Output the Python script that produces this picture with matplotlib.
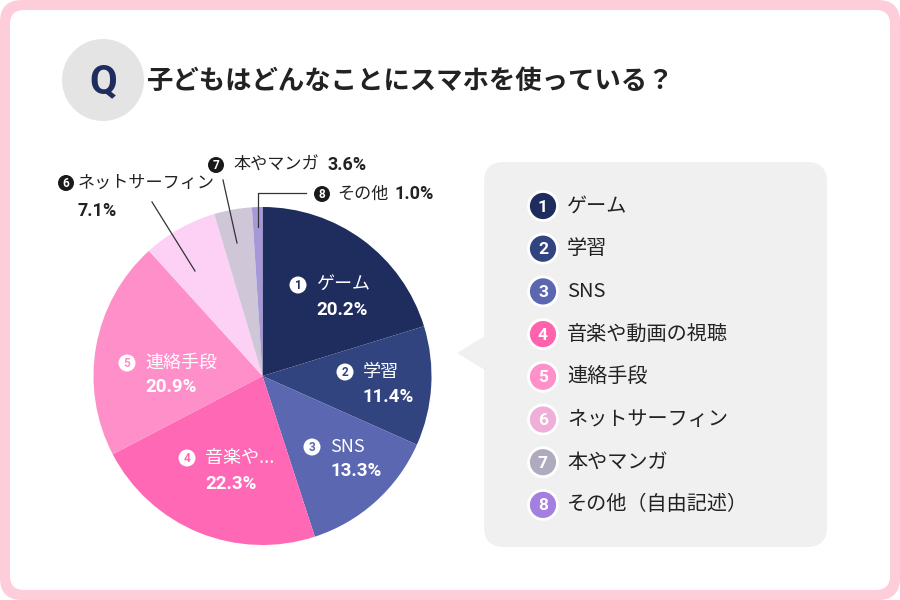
import matplotlib.pyplot as plt
from matplotlib.patches import Circle, FancyBboxPatch, Polygon

plt.rcParams['font.family'] = ['Noto Sans CJK JP', 'DejaVu Sans']

# data
labels = ['ゲーム', '学習', 'SNS', '音楽や動画の視聴', '連絡手段',
          'ネットサーフィン', '本やマンガ', 'その他（自由記述）']
short_labels = ['ゲーム', '学習', 'SNS', '音楽や...', '連絡手段',
                'ネットサーフィン', '本やマンガ', 'その他']
shares = [20.2, 11.4, 13.3, 22.3, 20.9, 7.1, 3.6, 1.0]
slice_colors = ['#1e2c5e', '#324480', '#5b67b1', '#ff68b4', '#ff8fc8',
                '#fdd0f6', '#cfc6d8', '#a898d8']
legend_colors = ['#1e2c5e', '#324480', '#5b67b1', '#ff63ad', '#ff90c9',
                 '#f0afd8', '#b0aabf', '#a57fe0']
title = '子どもはどんなことにスマホを使っている？'

fig = plt.figure(figsize=(9, 6), dpi=100)

# background panel
bg = fig.add_axes([0, 0, 1, 1], zorder=0)
bg.set_xlim(0, 900)
bg.set_ylim(600, 0)
bg.axis('off')
bg.add_patch(FancyBboxPatch((0, 0), 900, 600, boxstyle='round,pad=0,rounding_size=22',
                            fc='#fdcdda', ec='none'))
bg.add_patch(FancyBboxPatch((10, 10), 880, 580, boxstyle='round,pad=0,rounding_size=14',
                            fc='white', ec='none'))

# Q badge and title
bg.add_patch(Circle((103, 80), 41, fc='#e4e4e4', ec='none'))
bg.text(103, 82, 'Q', ha='center', va='center', fontsize=29, fontweight='bold',
        color='#1e2c5e', family='Roboto')
bg.text(147, 81, title, ha='left', va='center', fontsize=19, fontweight='bold',
        color='#222222')

# legend box with pointer
bg.add_patch(FancyBboxPatch((484, 162), 343, 385, boxstyle='round,pad=0,rounding_size=20',
                            fc='#f0f0f0', ec='none'))
bg.add_patch(Polygon([(485, 336), (457, 353), (485, 370)], closed=True,
                     fc='#f0f0f0', ec='none'))

for i, (lab, col) in enumerate(zip(labels, legend_colors)):
    y = 206 + i * 42.7
    bg.add_patch(Circle((543, y), 14.5, fc=col, ec='white', lw=2))
    bg.text(543, y + 1, str(i + 1), ha='center', va='center', fontsize=12.5,
            fontweight='bold', color='white', family='Roboto')
    bg.text(567, y, lab, ha='left', va='center', fontsize=14.5, color='#222222')

# pie
cx, cy, r = 262.5, 376, 169
pie_ax = fig.add_axes([(cx - r) / 900, (600 - cy - r) / 600, 2 * r / 900, 2 * r / 600],
                      zorder=1)
pie_ax.pie(shares, colors=slice_colors, startangle=90, counterclock=False,
           wedgeprops=dict(linewidth=0))
pie_ax.set_xlim(-1, 1)
pie_ax.set_ylim(-1, 1)
pie_ax.set_aspect('equal')

# overlay for labels
ov = fig.add_axes([0, 0, 1, 1], zorder=2)
ov.set_xlim(0, 900)
ov.set_ylim(600, 0)
ov.axis('off')
ov.patch.set_alpha(0)

# labels inside slices: (circle x, circle y, percentage y)
inside = {0: (298, 285, 310), 1: (345, 372, 397), 2: (312, 447, 471),
          3: (187, 458, 484), 4: (127, 363, 387)}
for i, (x, y, py) in inside.items():
    ov.add_patch(Circle((x, y), 8.5, fc='white', ec='none'))
    ov.text(x, y + 0.5, str(i + 1), ha='center', va='center', fontsize=8.5,
            fontweight='bold', color=slice_colors[i], family='Roboto')
    ov.text(x + 18, y, short_labels[i], ha='left', va='center', fontsize=13,
            color='white')
    ov.text(x + 18, py, f'{shares[i]:.1f}%', ha='left', va='center', fontsize=13.5,
            fontweight='bold', color='white', family='Roboto')

# leader lines for the small slices
ov.plot([152, 195], [202, 271], color='#333333', lw=0.9)
ov.plot([223, 237], [180, 243], color='#333333', lw=0.9)
ov.plot([306, 257.5, 257.5], [193, 193, 227], color='#333333', lw=0.9)

# labels outside: (circle x, circle y, text x, pct x, pct y)
outside = {5: (66, 183, 78, 77, 211), 6: (216, 165, 233, 328, 165),
           7: (322, 194, 337, 395, 194)}
for i, (x, y, tx, px, py) in outside.items():
    ov.add_patch(Circle((x, y), 8, fc='#1a1a1a', ec='none'))
    ov.text(x, y + 0.5, str(i + 1), ha='center', va='center', fontsize=8.5,
            fontweight='bold', color='white', family='Roboto')
    ov.text(tx, y, short_labels[i], ha='left', va='center', fontsize=12.3,
            color='#222222')
    ov.text(px, py, f'{shares[i]:.1f}%', ha='left', va='center', fontsize=13,
            fontweight='bold', color='#222222', family='Roboto')

fig.savefig('out.png', dpi=100)
